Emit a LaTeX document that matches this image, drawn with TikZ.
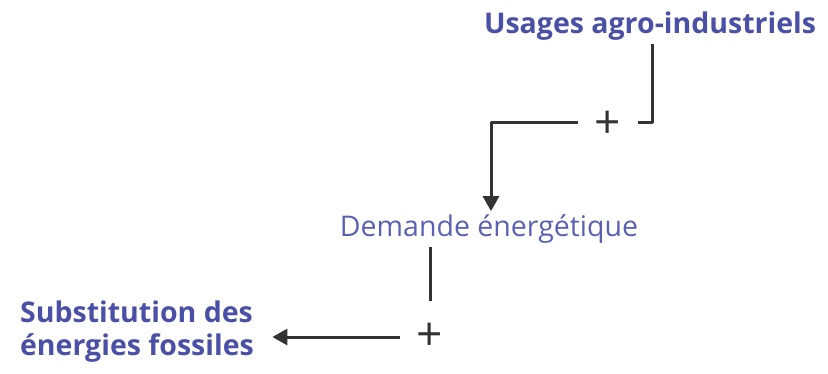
\documentclass[tikz,border=0pt]{standalone}
\usepackage{fontspec}
\setmainfont{Open Sans}
\usetikzlibrary{arrows.meta}
\definecolor{bleu}{HTML}{4A50A6}
\definecolor{bleuclair}{HTML}{5A61B5}
\definecolor{trait}{HTML}{333333}

\begin{document}
\begin{tikzpicture}[x=1pt,y=-1pt]
    \tikzset{var/.style = {text=bleuclair, font=\fontsize{28.5}{33}\selectfont}}
    \tikzset{varbold/.style = {var, text=bleu, font=\fontsize{28.5}{33}\selectfont\bfseries}}
    \tikzset{sign/.style = {text=trait, font=\fontsize{46}{46}\selectfont, inner sep=0pt, minimum width=60pt, minimum height=72pt}}
    \tikzset{link/.style = {draw=trait, line width=3pt, line join=round}}
    \tikzset{arrow/.style = {link, -{Triangle[length=15pt,width=16pt]}}}

    \useasboundingbox (0,0) rectangle (828,373);

    % vertices
    \node[varbold] (usages) at (650,26) {Usages agro-industriels};
    \node[sign] (p1) at (608,125) {+};
    \node[var] (demande) at (489,229) {Demande énergétique};
    \node[sign] (p2) at (430,337) {+};
    \node[varbold, align=left] (subst) at (137,332) {Substitution des\\énergies fossiles};

    % corners
    \coordinate (c1) at (652,122);
    \coordinate (c2) at (491,122);

    % edges
    \draw[link] (usages.south -| c1) -- (c1) -- (p1.east |- c1);
    \draw[arrow] (p1.west |- c2) -- (c2) -- (demande.north -| c2);
    \draw[link] (demande.south -| p2.north) -- (p2.north);
    \draw[arrow, shorten >=15pt] (p2.west) -- (subst.east |- p2.west);
\end{tikzpicture}
\end{document}
